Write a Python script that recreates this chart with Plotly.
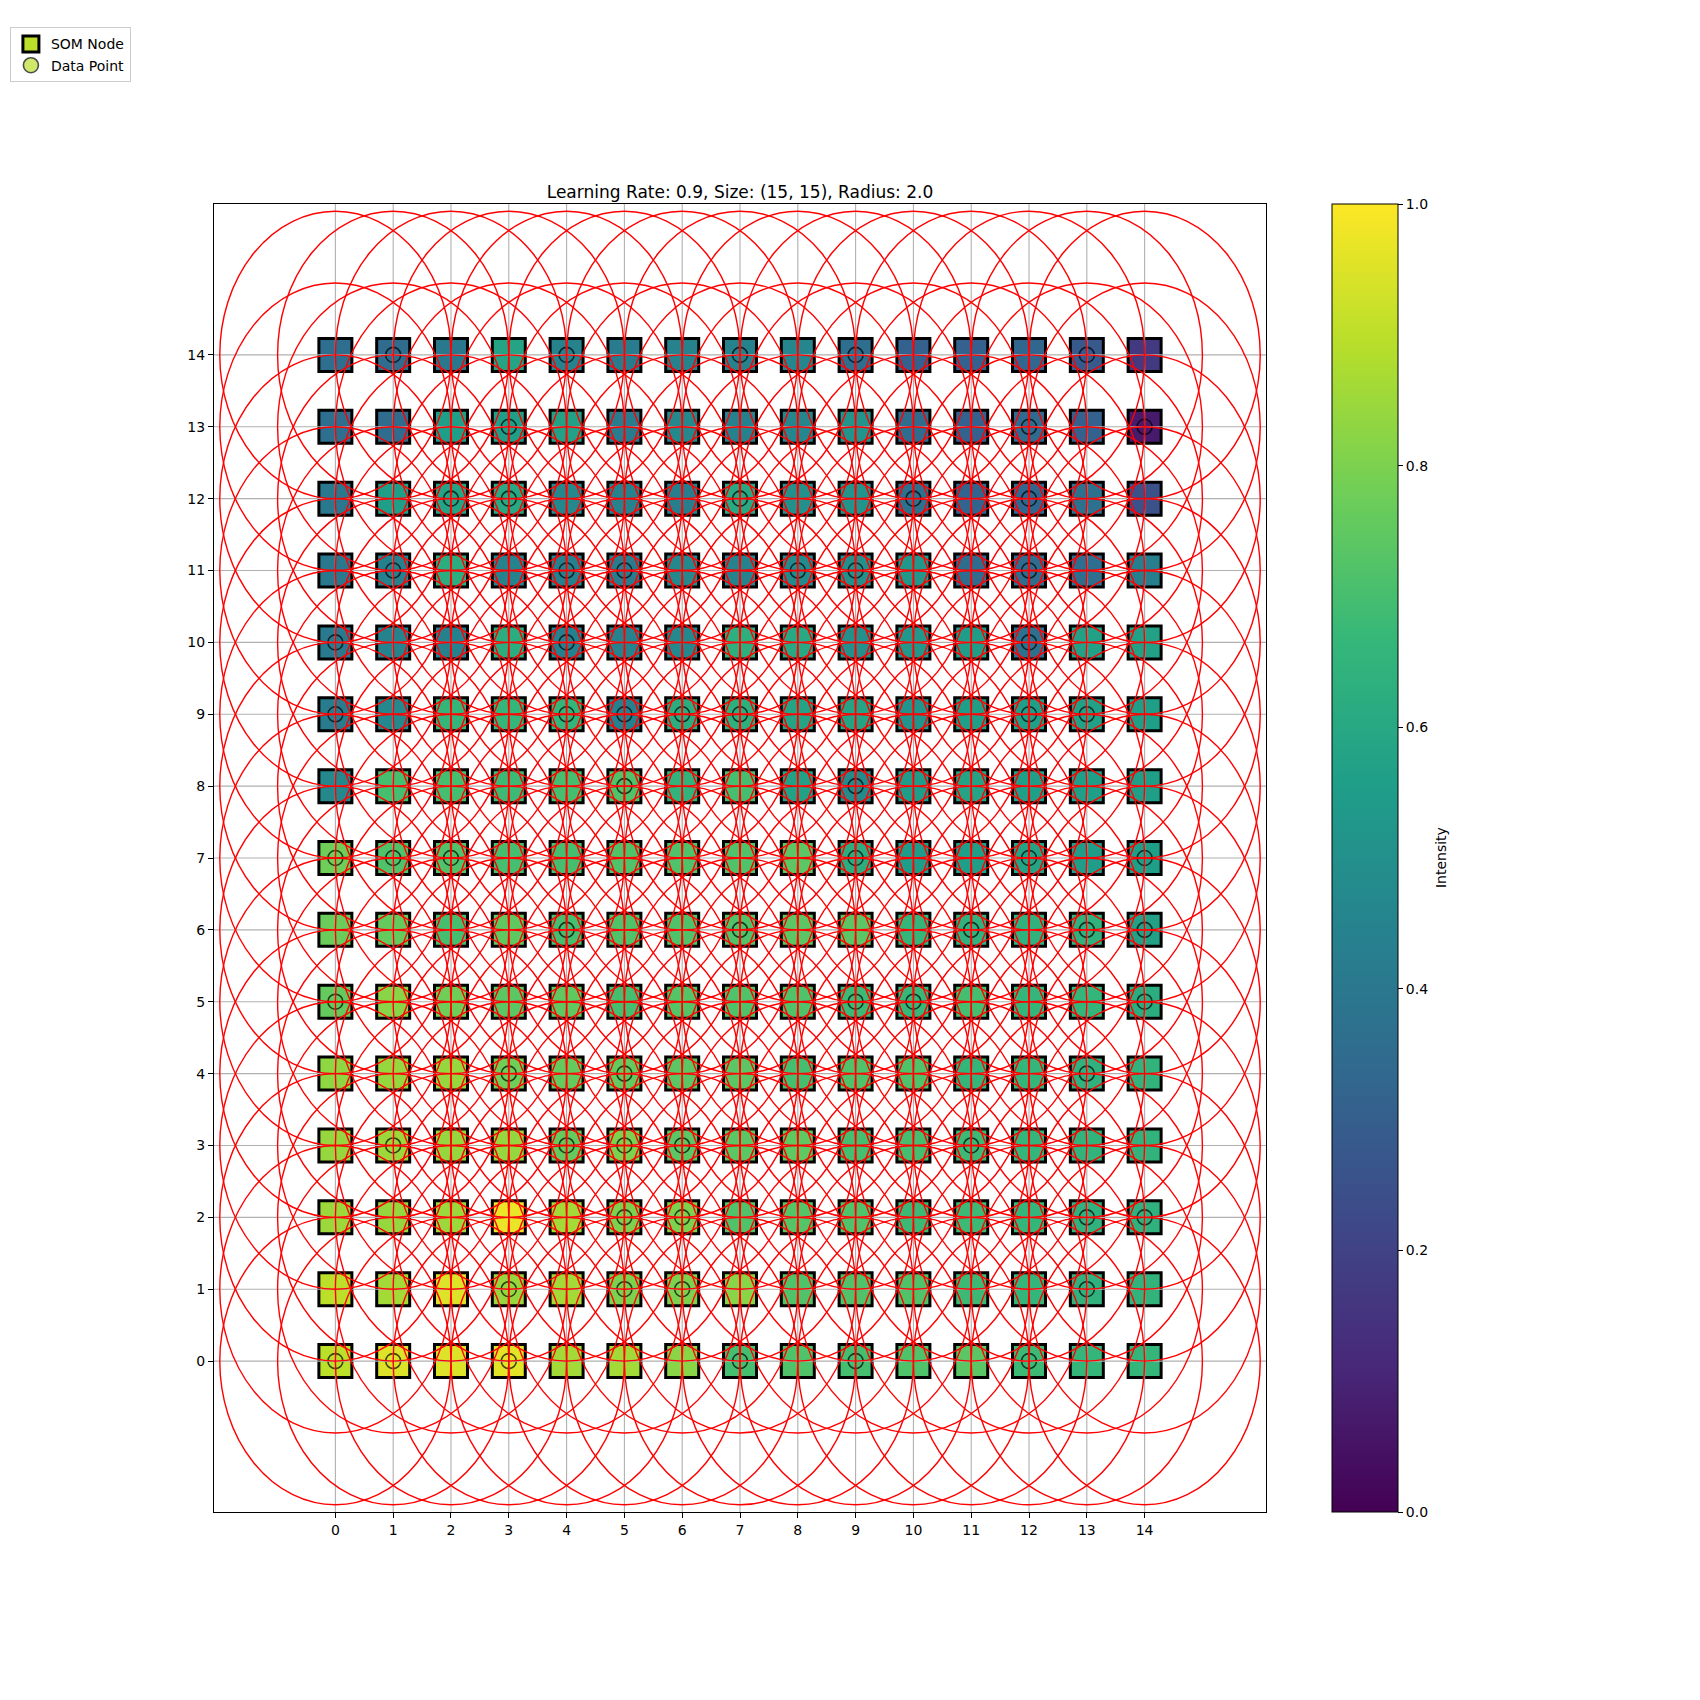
import plotly.graph_objects as go

# ---------------- data ----------------
grid_size = 15
radius = 2.0
learning_rate = 0.9

# node intensities, rows listed from y=14 (top) down to y=0 (bottom), columns x=0..14
intensity_rows_top_down = [
    [0.36, 0.35, 0.40, 0.58, 0.45, 0.42, 0.45, 0.45, 0.46, 0.36, 0.31, 0.31, 0.33, 0.28, 0.17],
    [0.36, 0.35, 0.56, 0.56, 0.57, 0.42, 0.47, 0.44, 0.46, 0.52, 0.35, 0.31, 0.34, 0.31, 0.07],
    [0.40, 0.56, 0.58, 0.60, 0.47, 0.45, 0.43, 0.60, 0.50, 0.52, 0.37, 0.32, 0.33, 0.37, 0.25],
    [0.40, 0.44, 0.62, 0.45, 0.44, 0.42, 0.47, 0.45, 0.48, 0.50, 0.53, 0.35, 0.35, 0.36, 0.43],
    [0.41, 0.45, 0.44, 0.62, 0.44, 0.45, 0.47, 0.63, 0.60, 0.50, 0.53, 0.55, 0.37, 0.57, 0.57],
    [0.42, 0.47, 0.66, 0.66, 0.66, 0.44, 0.62, 0.63, 0.58, 0.58, 0.52, 0.56, 0.56, 0.57, 0.56],
    [0.47, 0.70, 0.70, 0.68, 0.70, 0.72, 0.65, 0.70, 0.57, 0.48, 0.55, 0.58, 0.56, 0.56, 0.56],
    [0.78, 0.72, 0.72, 0.70, 0.70, 0.72, 0.72, 0.72, 0.74, 0.62, 0.55, 0.56, 0.58, 0.55, 0.56],
    [0.77, 0.76, 0.70, 0.75, 0.70, 0.72, 0.72, 0.72, 0.74, 0.74, 0.66, 0.64, 0.64, 0.64, 0.57],
    [0.76, 0.82, 0.78, 0.74, 0.75, 0.70, 0.73, 0.72, 0.72, 0.68, 0.67, 0.70, 0.66, 0.66, 0.62],
    [0.83, 0.84, 0.84, 0.78, 0.76, 0.76, 0.74, 0.74, 0.70, 0.72, 0.72, 0.66, 0.66, 0.64, 0.65],
    [0.84, 0.85, 0.84, 0.84, 0.76, 0.80, 0.74, 0.74, 0.75, 0.70, 0.70, 0.68, 0.66, 0.65, 0.65],
    [0.85, 0.84, 0.85, 0.97, 0.86, 0.80, 0.80, 0.72, 0.73, 0.72, 0.68, 0.68, 0.66, 0.64, 0.64],
    [0.90, 0.86, 0.95, 0.84, 0.86, 0.80, 0.80, 0.82, 0.72, 0.72, 0.72, 0.68, 0.66, 0.64, 0.65],
    [0.90, 0.95, 0.95, 0.96, 0.86, 0.86, 0.82, 0.70, 0.72, 0.70, 0.72, 0.74, 0.68, 0.66, 0.66],
]

# data points (x, y) mapped onto the grid
data_x = [0, 1, 3, 7, 9, 12,
          3, 5, 6, 13,
          5, 6, 13, 14,
          1, 4, 5, 6, 11,
          3, 5, 13,
          0, 9, 10, 14,
          4, 7, 11, 13, 14,
          0, 1, 2, 9, 12, 14,
          5, 9,
          0, 4, 5, 6, 7, 12, 13,
          0, 4, 12,
          1, 4, 5, 8, 9, 12,
          2, 3, 7, 10, 12,
          3, 12, 14,
          1, 4, 7, 9, 13]
data_y = [0, 0, 0, 0, 0, 0,
          1, 1, 1, 1,
          2, 2, 2, 2,
          3, 3, 3, 3, 3,
          4, 4, 4,
          5, 5, 5, 5,
          6, 6, 6, 6, 6,
          7, 7, 7, 7, 7, 7,
          8, 8,
          9, 9, 9, 9, 9, 9, 9,
          10, 10, 10,
          11, 11, 11, 11, 11, 11,
          12, 12, 12, 12, 12,
          13, 13, 13,
          14, 14, 14, 14, 14]

tick_values = list(range(grid_size))
colorbar_ticks = [0.0, 0.2, 0.4, 0.6, 0.8, 1.0]

# ---------------- build ----------------
node_x, node_y, node_val = [], [], []
for r, row in enumerate(intensity_rows_top_down):
    y = grid_size - 1 - r
    for x, v in enumerate(row):
        node_x.append(x)
        node_y.append(y)
        node_val.append(v)

# order by bottom row first so (0,0) is first
order = sorted(range(len(node_x)), key=lambda i: (node_y[i], node_x[i]))
node_x = [node_x[i] for i in order]
node_y = [node_y[i] for i in order]
node_val = [node_val[i] for i in order]
lookup = {(x, y): v for x, y, v in zip(node_x, node_y, node_val)}
data_val = [lookup[(x, y)] for x, y in zip(data_x, data_y)]

FONT = "DejaVu Sans"

fig = go.Figure()
fig.add_trace(go.Scatter(
    x=node_x, y=node_y, mode="markers", name="SOM Node",
    marker=dict(symbol="square", size=33, color=node_val, colorscale="Viridis",
                cmin=0, cmax=1, line=dict(color="black", width=3),
                showscale=True,
                colorbar=dict(
                    x=1.063, xanchor="left", xref="paper", xpad=0,
                    y=0.5, yanchor="middle", ypad=0,
                    len=1.0, lenmode="fraction", thickness=66, thicknessmode="pixels",
                    outlinewidth=1, outlinecolor="black",
                    ticks="outside", ticklen=5, tickcolor="black",
                    tickvals=colorbar_ticks, ticktext=[f"{v:.1f}" for v in colorbar_ticks],
                    tickfont=dict(family=FONT, size=14, color="black"),
                )),
    hoverinfo="skip",
))
fig.add_trace(go.Scatter(
    x=data_x, y=data_y, mode="markers", name="Data Point",
    marker=dict(symbol="circle", size=15, color=data_val, colorscale="Viridis",
                cmin=0, cmax=1, opacity=0.7, showscale=False,
                line=dict(color="black", width=1.6)),
    hoverinfo="skip",
))

shapes = []
# grid lines drawn above markers (as in the reference)
for t in tick_values:
    shapes.append(dict(type="line", xref="x", yref="paper", x0=t, x1=t, y0=0, y1=1,
                       line=dict(color="#b0b0b0", width=1.1), layer="above"))
    shapes.append(dict(type="line", xref="paper", yref="y", x0=0, x1=1, y0=t, y1=t,
                       line=dict(color="#b0b0b0", width=1.1), layer="above"))
# neighbourhood radius circles around every node
for x, y in zip(node_x, node_y):
    shapes.append(dict(type="circle", xref="x", yref="y",
                       x0=x - radius, x1=x + radius, y0=y - radius, y1=y + radius,
                       line=dict(color="red", width=1.4), fillcolor="rgba(0,0,0,0)",
                       layer="above"))

axis_common = dict(
    tickvals=tick_values, ticktext=[str(t) for t in tick_values],
    range=[-2.1, 16.1], showgrid=False, zeroline=False,
    showline=True, linecolor="black", linewidth=1, mirror=True,
    ticks="outside", ticklen=5, tickcolor="black", tickwidth=1,
    tickfont=dict(family=FONT, size=14, color="black"),
)

fig.update_layout(
    width=1700, height=1700,
    paper_bgcolor="white", plot_bgcolor="white",
    margin=dict(l=206, r=442, t=196, b=196, autoexpand=False),
    font=dict(family=FONT, size=14, color="black"),
    title=dict(text=f"Learning Rate: {learning_rate}, Size: ({grid_size}, {grid_size}), Radius: {radius}",
               x=0.5, xref="paper", xanchor="center",
               y=1.0, yref="paper", yanchor="bottom", pad=dict(b=6),
               font=dict(family=FONT, size=17, color="black")),
    xaxis=axis_common, yaxis=axis_common,
    shapes=shapes,
    annotations=[dict(text="Intensity", xref="paper", yref="paper", x=1.1664, y=0.5,
                      xanchor="center", yanchor="middle", textangle=-90, showarrow=False,
                      font=dict(family=FONT, size=14, color="black"))],
    showlegend=True,
    legend=dict(x=-0.194, y=1.135, xanchor="left", yanchor="top",
                bgcolor="white", bordercolor="#cccccc", borderwidth=1,
                font=dict(family=FONT, size=14, color="black"),
                itemsizing="trace", tracegroupgap=0),
)

fig.write_html("out.html")
